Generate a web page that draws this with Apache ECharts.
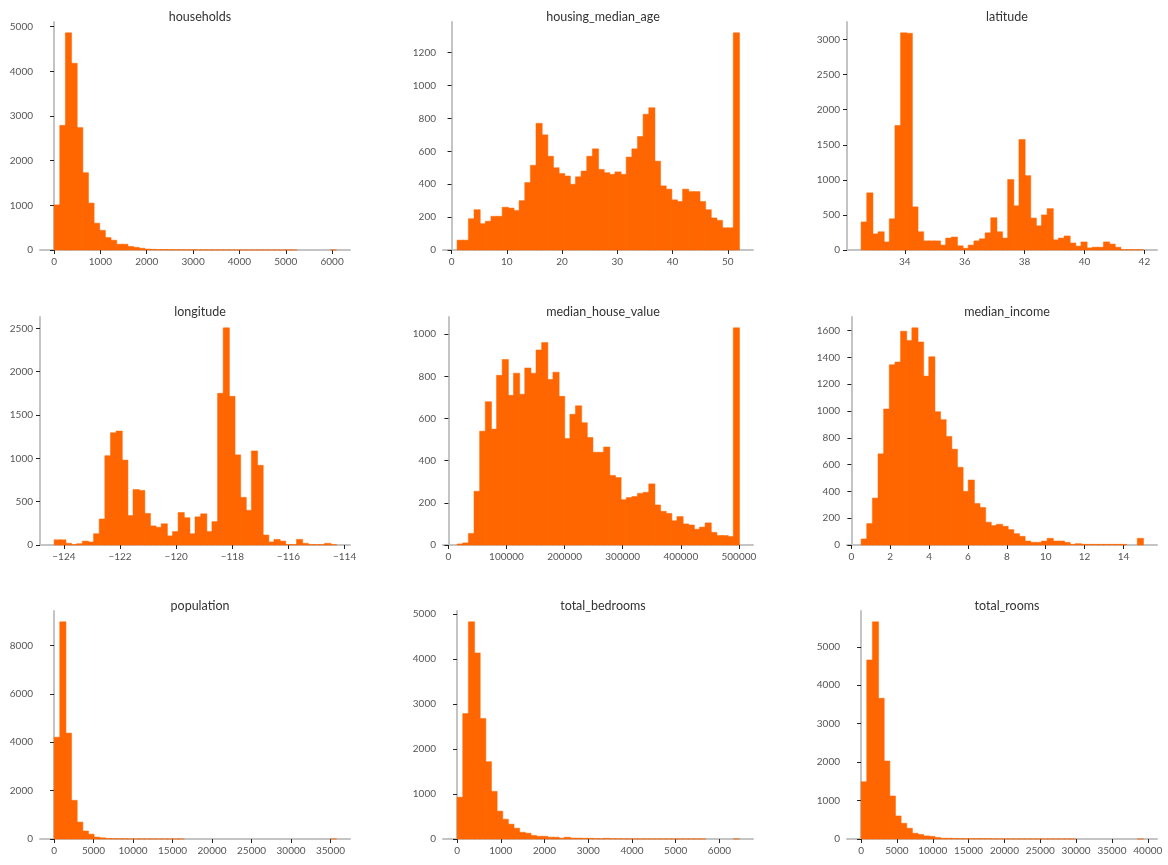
<!DOCTYPE html>
<html><head><meta charset="utf-8">
<script src="https://cdn.jsdelivr.net/npm/echarts@6/dist/echarts.min.js"></script>
<style>html,body{margin:0;padding:0;background:#fff}#c{width:1168px;height:865px}</style>
</head><body><div id="c"></div>
<script>
const titles = ["households","housing_median_age","latitude","longitude","median_house_value","median_income","population","total_bedrooms","total_rooms"];
const ranges = [[1,6082],[1,52],[32.54,41.95],[-124.35,-114.31],[14999,500001],[0.4999,15.0001],[3,35682],[1,6445],[2,39320]];
const households = [1010,2790,4860,4180,2740,1730,1050,600,440,280,220,130,130,80,60,40,20,15,10,10,8,6,5,5,4,4,3,3,2,2,2,2,1,1,1,1,1,1,1,1,1,1,1,0,0,0,0,0,0,1];
const housingMedianAge = [60,60,190,245,160,175,205,205,260,255,240,300,410,515,770,700,570,500,465,450,400,445,480,570,615,490,470,460,475,460,565,615,690,825,865,540,390,370,305,295,370,355,355,295,245,195,180,135,135,1320];
const latitude = [400,815,230,260,115,445,1775,3095,3090,615,260,130,130,130,70,170,185,60,25,70,130,160,245,460,260,170,1005,630,1575,1060,455,345,500,590,145,170,200,100,55,115,30,40,40,115,85,40,5,5,5,5];
const longitude = [60,60,20,5,15,45,35,130,300,1030,1295,1315,980,340,640,630,365,220,205,245,105,155,375,315,130,325,360,155,270,1750,2505,1715,1040,550,400,1085,920,115,35,65,45,5,5,65,20,5,5,5,20,5];
const medianHouseValue = [5,10,55,255,540,680,550,805,880,710,815,715,840,815,925,960,785,820,705,505,620,660,580,510,440,440,465,330,320,215,225,230,245,250,290,190,160,150,115,135,100,95,75,85,105,60,45,45,40,1030];
const medianIncome = [45,160,350,680,1015,1345,1365,1595,1525,1620,1515,1260,1405,995,935,810,715,580,400,485,310,280,170,145,155,140,115,85,65,30,20,20,30,50,30,30,20,5,10,5,5,5,5,5,5,5,5,0,0,50];
const population = [4210,8980,4380,1600,700,330,200,80,50,25,15,10,8,5,4,3,2,2,1,1,1,1,1,0,0,0,0,0,0,0,0,0,0,0,0,0,0,0,0,0,0,0,0,0,0,0,0,0,0,1];
const totalBedrooms = [930,2790,4830,4140,2680,1720,1060,620,440,330,240,150,130,80,60,60,40,40,20,40,20,20,15,15,10,5,15,5,5,4,3,2,2,2,1,1,1,1,1,1,1,1,1,1,0,0,0,0,0,1];
const totalRooms = [1490,4660,5650,3660,2030,1120,600,410,280,150,120,80,70,40,20,20,15,10,10,10,10,10,10,5,4,3,3,2,2,2,1,1,1,1,1,1,1,1,0,0,0,0,0,0,0,0,0,0,0,1];
const counts = [households,housingMedianAge,latitude,longitude,medianHouseValue,medianIncome,population,totalBedrooms,totalRooms];
const xTicks = [[0,1000,2000,3000,4000,5000,6000],[0,10,20,30,40,50],[34,36,38,40,42],[-124,-122,-120,-118,-116,-114],[0,100000,200000,300000,400000,500000],[0,2,4,6,8,10,12,14],[0,5000,10000,15000,20000,25000,30000,35000],[0,1000,2000,3000,4000,5000,6000],[0,5000,10000,15000,20000,25000,30000,35000,40000]];
const yTicks = [[0,1000,2000,3000,4000,5000],[0,200,400,600,800,1000,1200],[0,500,1000,1500,2000,2500,3000],[0,500,1000,1500,2000,2500],[0,200,400,600,800,1000],[0,200,400,600,800,1000,1200,1400,1600],[0,2000,4000,6000,8000],[0,1000,2000,3000,4000,5000],[0,1000,2000,3000,4000,5000]];

const colLeft=[40,443,847], rowTop=[22,317,611], W=310, H=228;
const grids=[],xAxes=[],yAxes=[],series=[],tits=[];
const fmt=v=>v<0?'\u2212'+(-v):String(v);
for(let i=0;i<9;i++){
  const r=Math.floor(i/3), c=i%3;
  grids.push({left:colLeft[c],top:rowTop[r],width:W,height:H});
  const [lo,hi]=ranges[i], pad=(hi-lo)*0.05;
  const ymax=Math.max(...counts[i])*1.05;
  const lab={color:'#555',fontSize:10,fontFamily:'Lato',margin:7};
  xAxes.push({type:'value',gridIndex:i,min:lo-pad,max:hi+pad,splitLine:{show:false},
    axisLine:{show:true,onZero:false,lineStyle:{color:'#c4c4c4',width:2}},
    axisTick:{show:true,customValues:xTicks[i],length:4,lineStyle:{color:'#222',width:1}},
    axisLabel:Object.assign({customValues:xTicks[i],formatter:fmt,hideOverlap:false},lab)});
  yAxes.push({type:'value',gridIndex:i,min:0,max:ymax,splitLine:{show:false},
    axisLine:{show:true,lineStyle:{color:'#c4c4c4',width:2}},
    axisTick:{show:true,customValues:yTicks[i],length:4,lineStyle:{color:'#222',width:1}},
    axisLabel:Object.assign({customValues:yTicks[i],formatter:fmt},lab)});
  const w=(hi-lo)/50;
  const data=counts[i].map((n,k)=>[lo+k*w,lo+(k+1)*w,n]);
  series.push({type:'custom',xAxisIndex:i,yAxisIndex:i,data:data,clip:false,
    renderItem:(p,api)=>{
      if(api.value(2)<=0) return null;
      const a=api.coord([api.value(0),api.value(2)]), b=api.coord([api.value(1),0]);
      return {type:'rect',shape:{x:a[0],y:a[1],width:b[0]-a[0]+0.6,height:b[1]-a[1]},style:{fill:'#ff6600',stroke:'#ff6600',lineWidth:0.5}};
    }});
  tits.push({text:titles[i],left:colLeft[c]+W/2,top:rowTop[r]-17,textAlign:'center',
    textStyle:{fontSize:12.5,fontWeight:'normal',color:'#333',fontFamily:'Lato'}});
}
const chart=echarts.init(document.getElementById('c'),null,{renderer:'canvas'});
chart.setOption({animation:false,backgroundColor:'#fff',title:tits,grid:grids,xAxis:xAxes,yAxis:yAxes,series:series});
</script></body></html>
